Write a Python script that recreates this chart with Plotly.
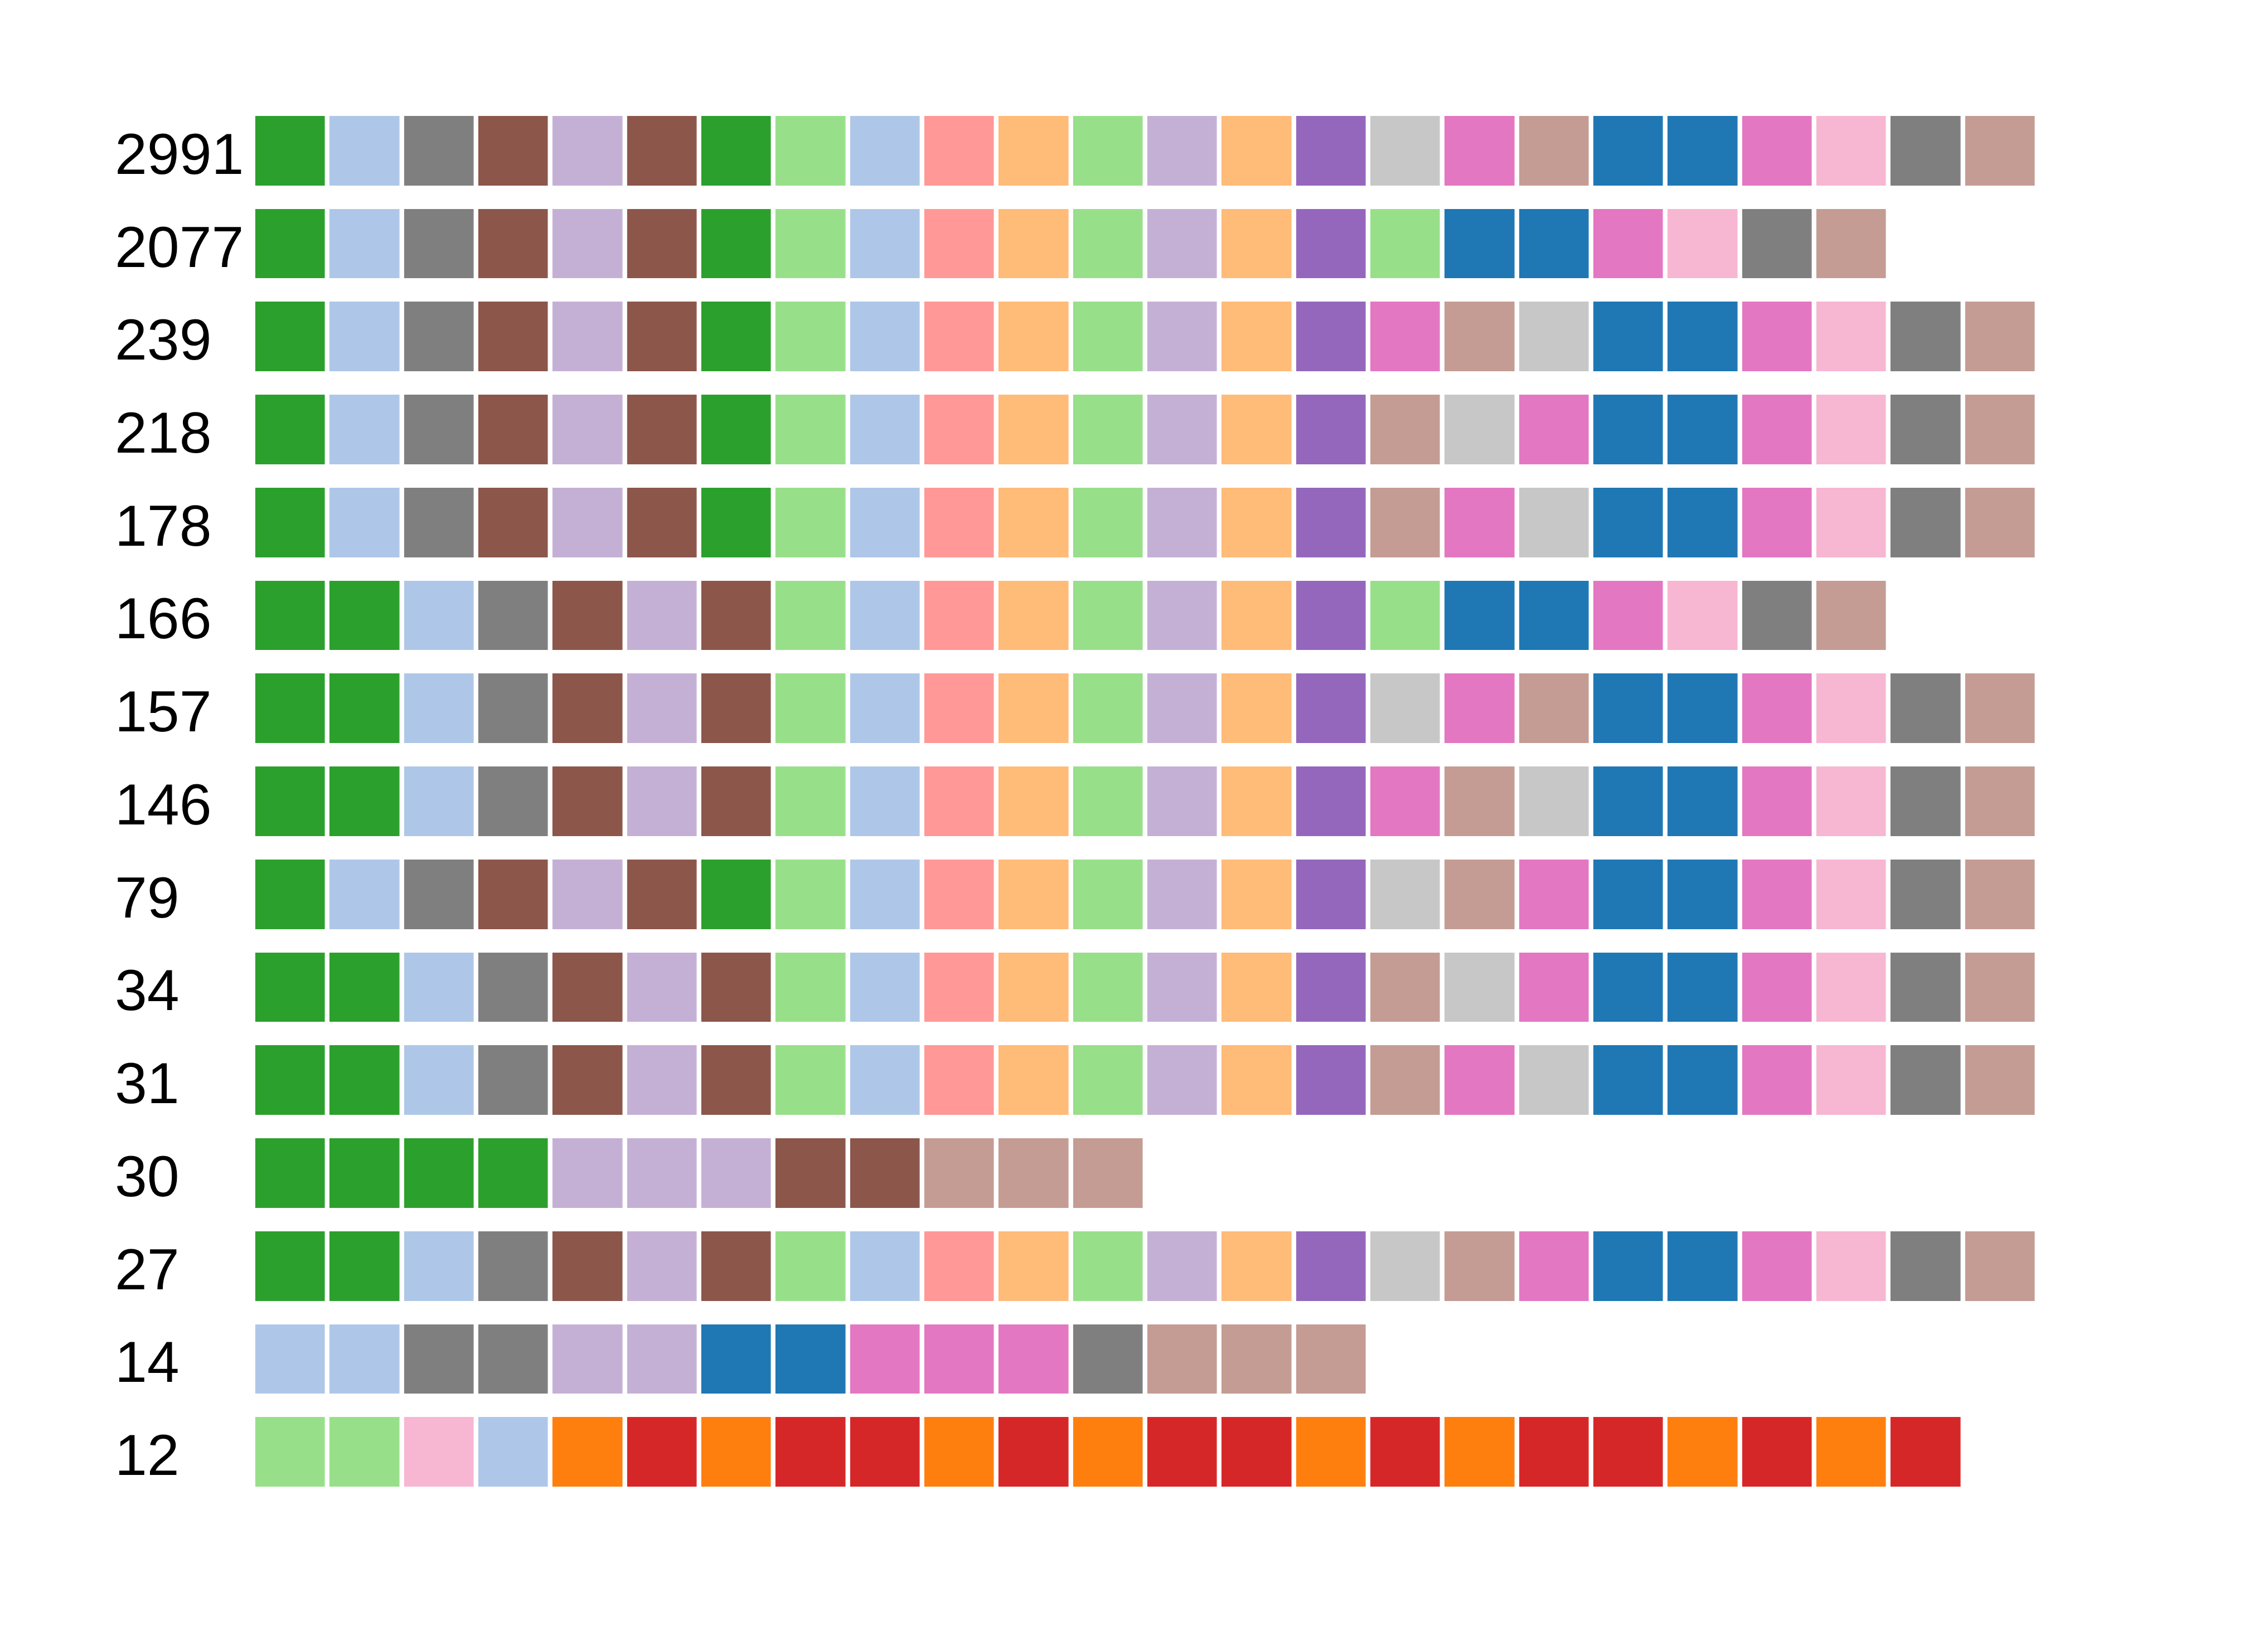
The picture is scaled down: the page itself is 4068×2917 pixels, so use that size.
import plotly.graph_objects as go

# Row labels (top to bottom)
row_labels = ["2991", "2077", "239", "218", "178", "166", "157", "146",
              "79", "34", "31", "30", "27", "14", "12"]

# tab20-style colour keys
colour_hex = {
    "G": "#2ca02c",  # green
    "g": "#98df8a",  # light green
    "B": "#1f77b4",  # blue
    "b": "#aec7e8",  # light blue
    "O": "#ff7f0e",  # orange
    "o": "#ffbb78",  # light orange
    "R": "#d62728",  # red
    "r": "#ff9896",  # light red
    "P": "#9467bd",  # purple
    "p": "#c5b0d5",  # light purple
    "N": "#8c564b",  # brown
    "n": "#c49c94",  # light brown
    "K": "#e377c2",  # pink
    "k": "#f7b6d2",  # light pink
    "Y": "#7f7f7f",  # gray
    "y": "#c7c7c7",  # light gray
}

# Cell colour sequences for each row
row_2991 = "G b Y N p N G g b r o g p o P y K n B B K k Y n".split()
row_2077 = "G b Y N p N G g b r o g p o P g B B K k Y n".split()
row_239  = "G b Y N p N G g b r o g p o P K n y B B K k Y n".split()
row_218  = "G b Y N p N G g b r o g p o P n y K B B K k Y n".split()
row_178  = "G b Y N p N G g b r o g p o P n K y B B K k Y n".split()
row_166  = "G G b Y N p N g b r o g p o P g B B K k Y n".split()
row_157  = "G G b Y N p N g b r o g p o P y K n B B K k Y n".split()
row_146  = "G G b Y N p N g b r o g p o P K n y B B K k Y n".split()
row_79   = "G b Y N p N G g b r o g p o P y n K B B K k Y n".split()
row_34   = "G G b Y N p N g b r o g p o P n y K B B K k Y n".split()
row_31   = "G G b Y N p N g b r o g p o P n K y B B K k Y n".split()
row_30   = "G G G G p p p N N n n n".split()
row_27   = "G G b Y N p N g b r o g p o P y n K B B K k Y n".split()
row_14   = "b b Y Y p p B B K K K Y n n n".split()
row_12   = "g g k b O R O R R O R O R R O R O R R O R O R".split()

rows = [row_2991, row_2077, row_239, row_218, row_178, row_166, row_157,
        row_146, row_79, row_34, row_31, row_30, row_27, row_14, row_12]

keys = list(colour_hex.keys())
n_cols = max(len(r) for r in rows)
n_k = len(keys)

z = []
for r in rows:
    z.append([keys.index(c) for c in r] + [None] * (n_cols - len(r)))

colorscale = []
for i, k in enumerate(keys):
    colorscale.append([i / n_k, colour_hex[k]])
    colorscale.append([(i + 1) / n_k, colour_hex[k]])

W, H = 4068, 2917
m_l, m_r, m_t, m_b = 0, 413.7, 187.3, 229.2
paper_w = W - m_l - m_r

fig = go.Figure(go.Heatmap(
    z=z,
    x=list(range(n_cols)),
    y=row_labels,
    colorscale=colorscale,
    zmin=-0.5, zmax=n_k - 0.5,
    showscale=False,
    xgap=8.35, ygap=42,
    hoverinfo="skip",
))

fig.update_layout(
    width=W, height=H,
    margin=dict(l=m_l, r=m_r, t=m_t, b=m_b, autoexpand=False),
    paper_bgcolor="white", plot_bgcolor="white",
    font=dict(family="Liberation Sans, Arial, sans-serif", size=104, color="black"),
    xaxis=dict(domain=[453.9 / paper_w, 1], range=[-0.5, n_cols - 0.5],
               visible=False, showgrid=False, zeroline=False, fixedrange=True),
    yaxis=dict(type="category", categoryorder="array", categoryarray=row_labels,
               autorange="reversed", anchor="free", position=205 / paper_w,
               side="right", showgrid=False, zeroline=False, showline=False,
               ticks="", automargin=False, ticklabelshift=-5,
               tickfont=dict(family="Liberation Sans, Arial, sans-serif",
                             size=104, color="black")),
    showlegend=False,
)

fig.write_html("out.html")
